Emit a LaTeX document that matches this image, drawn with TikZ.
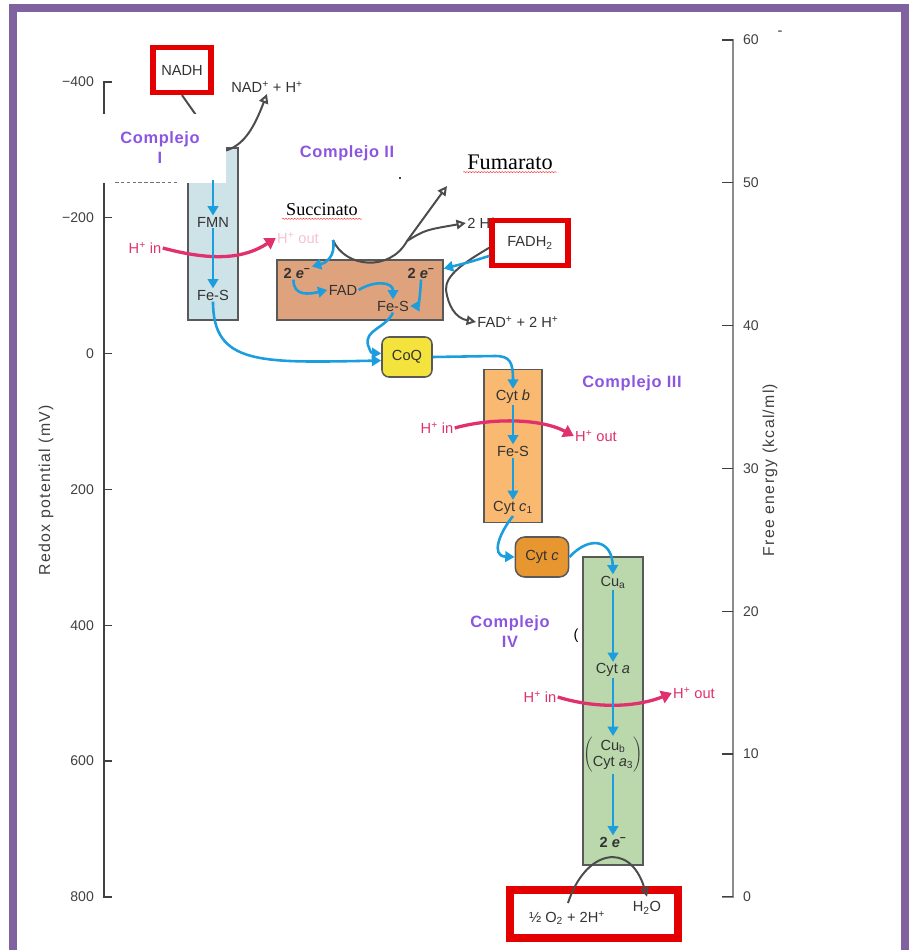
\documentclass[tikz,border=0pt]{standalone}
\usepackage{fontspec}
\setmainfont{Liberation Sans}
\newfontfamily\serifface{Liberation Serif}
\usetikzlibrary{arrows.meta,decorations.pathmorphing}
\definecolor{framepurple}{RGB}{128,98,160}
\definecolor{cpurple}{RGB}{140,85,225}
\definecolor{boxred}{RGB}{228,0,0}
\definecolor{eblue}{RGB}{28,158,222}
\definecolor{hpink}{RGB}{224,48,110}
\definecolor{cIfill}{RGB}{206,227,232}
\definecolor{cIIfill}{RGB}{222,163,124}
\definecolor{cIIIfill}{RGB}{249,185,112}
\definecolor{cIVfill}{RGB}{186,216,172}
\definecolor{coqfill}{RGB}{243,227,60}
\definecolor{cytcfill}{RGB}{232,150,48}

\begin{document}
\begin{tikzpicture}[x=0.03cm,y=-0.03cm,
  lbl/.style={font=\fontsize{12.5}{14}\selectfont,text=black!80,inner sep=1pt},
  axlbl/.style={font=\fontsize{12}{14}\selectfont,text=black!75},
  axtitle/.style={font=\fontsize{13.5}{15}\selectfont\addfontfeatures{LetterSpace=8},text=black!75,rotate=90},
  cname/.style={font=\fontsize{14}{17}\selectfont\bfseries\addfontfeatures{LetterSpace=4},text=cpurple,align=center},
  hlbl/.style={font=\fontsize{12.5}{14}\selectfont,text=hpink,inner sep=1pt},
  cplx/.style={draw=black!65,line width=1.3pt},
  redbox/.style={draw=boxred,line width=4.5pt,fill=white},
  eflow/.style={draw=eblue,line width=2.2pt,-{Triangle[width=9pt,length=8pt]}},
  hflow/.style={draw=hpink,line width=2.8pt,-{Triangle[width=11pt,length=9pt]}},
  chem/.style={draw=black!70,line width=1.7pt,-{Triangle[open,width=8pt,length=8pt]}}]
\useasboundingbox (0,0) rectangle (914,950);
\draw[framepurple,line width=6.8pt] (13,8) rectangle (905,980);

\draw[black!75,line width=1.1pt] (112,82) -- (104,82) -- (104,897) -- (112,897);
\foreach \v [count=\i from 0] in {−400,−200,0,200,400,600,800} {
  \draw[black!75,line width=1.1pt] (104,{82+135.8*\i}) -- (112,{82+135.8*\i});
  \node[axlbl,anchor=east] at (98,{82+135.8*\i}) {\v};
}
\draw[black!45,line width=1.8pt] (722,40) -- (733,40) -- (733,897) -- (722,897);
\foreach \v [count=\i from 0] in {60,50,...,0} {
  \draw[black!75,line width=1.1pt] (722,{40+142.8*\i}) -- (733,{40+142.8*\i});
  \node[axlbl,anchor=west] at (739,{40+142.8*\i}) {\v};
}
\node[axtitle] (redox) at (46,490) {Redox potential (mV)};
\node[axtitle] (free) at (770,470) {Free energy (kcal/ml)};
\node[lbl] (dash) at (780,33) {-};

\node[cplx,fill=cIfill,minimum width=1.5cm,minimum height=5.16cm] (c1) at (213,234) {};
\node[lbl] (fmn) at (213,222) {FMN};
\node[lbl] (fes1) at (213,295) {Fe-S};
\node[redbox,lbl,minimum width=1.74cm,minimum height=1.35cm] (nadh) at (182,70) {NADH};
\node[lbl] (nad) at (267,87) {NAD\textsuperscript{+} + H\textsuperscript{+}};
\coordinate (nadin) at (210,135);
\coordinate (nadout) at (224,151);
\draw[black!70,line width=1.7pt] (nadh.south) -- (nadin);
\draw[chem] (nadout) .. controls (245,146) and (255,125) .. (nad.south);
\node[fill=white,cname,minimum width=3.93cm,minimum height=2.07cm] (cI) at (160,148) {Complejo\\I};
\draw[black!55,densely dashed] (115,182) -- (178,182);
\coordinate (c1top) at (213,180);
\node[hlbl] (hin1) at (145,248) {H\textsuperscript{+} in};
\node[hlbl,text=hpink!30] (hout1) at (298,238) {H\textsuperscript{+} out};
\draw[hflow] (hin1.east) .. controls (215,262) and (245,258) .. (hout1.west);
\draw[eflow] (c1top) -- (fmn);
\draw[eflow] (fmn) -- (fes1);

\node[cname] (cII) at (347,153) {Complejo II};
\fill[black] (400,178) circle (1.2);
\node[font={\serifface\fontsize{19}{21}\selectfont}] (fum) at (510,162) {Fumarato};
\node[font={\serifface\fontsize{15.5}{18}\selectfont}] (succtxt) at (322,210) {Succinato};
\draw[red!80,decorate,decoration={snake,amplitude=0.5pt,segment length=2.5pt}] ([yshift=-2.5pt]fum.base west) -- ([yshift=-2.5pt]fum.base east);
\draw[red!80,decorate,decoration={snake,amplitude=0.5pt,segment length=2.5pt}] ([yshift=-2.5pt]succtxt.base west) -- ([yshift=-2.5pt]succtxt.base east);
\node[cplx,fill=cIIfill,minimum width=4.98cm,minimum height=1.8cm] (c2) at (360,290) {};
\node[lbl,font=\fontsize{12.5}{14}\selectfont\bfseries] (e2a) at (297,273) {2 \textit{e}\textsuperscript{−}};
\node[lbl] (fad) at (343,290) {FAD};
\node[lbl,font=\fontsize{12.5}{14}\selectfont\bfseries] (e2b) at (421,273) {2 \textit{e}\textsuperscript{−}};
\node[lbl] (fes2) at (393,306) {Fe-S};
\coordinate (succ) at (333,240);
\coordinate (succturn) at (407,241);
\coordinate (fumin) at (447,186);
\node[lbl] (h2) at (482,223) {2 H\textsuperscript{+}};
\draw[chem] (succ) .. controls (345,268) and (390,272) .. (succturn) -- (fumin);
\draw[chem] (succturn) .. controls (425,230) .. (h2.west);
\node[redbox,lbl,minimum width=2.28cm,minimum height=1.35cm] (fadh2) at (530,243) {FADH\textsubscript{2}};
\node[lbl] (fadp) at (518,322) {FAD\textsuperscript{+} + 2 H\textsuperscript{+}};
\draw[chem] ([yshift=-4pt]fadh2.west) .. controls (465,262) and (445,275) .. (446,290) .. controls (448,305) and (455,318) .. (fadp.west);
\draw[eflow] (succ) .. controls (336,256) and (326,263) .. (e2a.north east);
\draw[eflow] ([xshift=-3pt]e2a.south) .. controls (293,297) and (310,294) .. (fad.west);
\draw[eflow] (fad.east) .. controls (375,280) and (393,282) .. (fes2.north);
\draw[eflow] (e2b.south) .. controls (420,300) and (418,306) .. (fes2.east);
\draw[eflow] ([yshift=-11pt]fadh2.west) .. controls (470,262) .. ([yshift=-8pt]c2.north east);

\node[draw=black!65,line width=1.3pt,fill=coqfill,rounded corners=6pt,minimum width=1.5cm,minimum height=1.2cm,lbl] (coq) at (407,357) {CoQ};
\draw[eflow] (fes2.south) .. controls (386,328) and (364,330) .. (368,345) .. controls (371,353) .. ([yshift=3pt]coq.west);
\draw[eflow] (fes1.south) .. controls (213,365) and (260,363) .. ([yshift=-3pt]coq.west);

\node[cplx,fill=cIIIfill,minimum width=1.74cm,minimum height=4.59cm] (c3) at (513,446) {};
\node[lbl] (cytb) at (513,397) {Cyt \textit{b}};
\node[lbl] (fes3) at (513,451) {Fe-S};
\node[lbl] (cytc1) at (513,508) {Cyt \textit{c}\textsubscript{1}};
\node[cname] (cIII) at (632,383) {Complejo III};
\node[hlbl] (hin3) at (437,428) {H\textsuperscript{+} in};
\node[hlbl] (hout3) at (596,436) {H\textsuperscript{+} out};
\draw[hflow] (hin3.east) .. controls (490,418) and (540,418) .. (hout3.west);
\draw[eflow] (coq.east) -- (495,356) .. controls (510,356) and (513,362) .. (cytb.north);
\draw[eflow] (cytb) -- (fes3);
\draw[eflow] (fes3) -- (cytc1);

\node[draw=black!65,line width=1.3pt,fill=cytcfill,rounded corners=8pt,minimum width=1.6cm,minimum height=1.2cm,lbl] (cytc) at (542,557) {Cyt \textit{c}};
\node[cplx,fill=cIVfill,minimum width=1.8cm,minimum height=9.24cm] (c4) at (613,711) {};
\node[lbl] (cua) at (613,582) {Cu\textsubscript{a}};
\node[lbl] (cyta) at (613,670) {Cyt \textit{a}};
\node[lbl] (cub) at (613,755) {$\left(\begin{tabular}{@{}c@{}}Cu\textsubscript{b}\\Cyt \textit{a}\textsubscript{3}\end{tabular}\right)$};
\node[lbl,font=\fontsize{12.5}{14}\selectfont\bfseries] (e2c) at (613,842) {2 \textit{e}\textsuperscript{−}};
\node[cname] (cIV) at (510,632) {Complejo\\IV};
\node[lbl,text=black] (paren) at (576,636) {(};
\node[hlbl] (hin4) at (540,697) {H\textsuperscript{+} in};
\node[hlbl] (hout4) at (694,693) {H\textsuperscript{+} out};
\draw[hflow] (hin4.east) .. controls (600,710) and (640,706) .. (hout4.west);
\draw[eflow] (cytc1.south) .. controls (500,532) and (490,556) .. (cytc.west);
\draw[eflow] (cytc.east) .. controls (590,535) and (612,540) .. (cua.north);
\draw[eflow] (cua) -- (cyta);
\draw[eflow] (cyta) -- (cub);
\draw[eflow] (cub) -- (e2c);

\node[redbox,line width=6pt,minimum width=5.04cm,minimum height=1.44cm] (o2box) at (594,914) {};
\node[lbl] (o2) at (567,918) {½ O\textsubscript{2} + 2H\textsuperscript{+}};
\node[lbl] (h2o) at (647,908) {H\textsubscript{2}O};
\coordinate (o2out) at (568,903);
\draw[chem] (o2out) .. controls (585,850) and (630,840) .. ([yshift=3pt]h2o.north);
\end{tikzpicture}
\end{document}
